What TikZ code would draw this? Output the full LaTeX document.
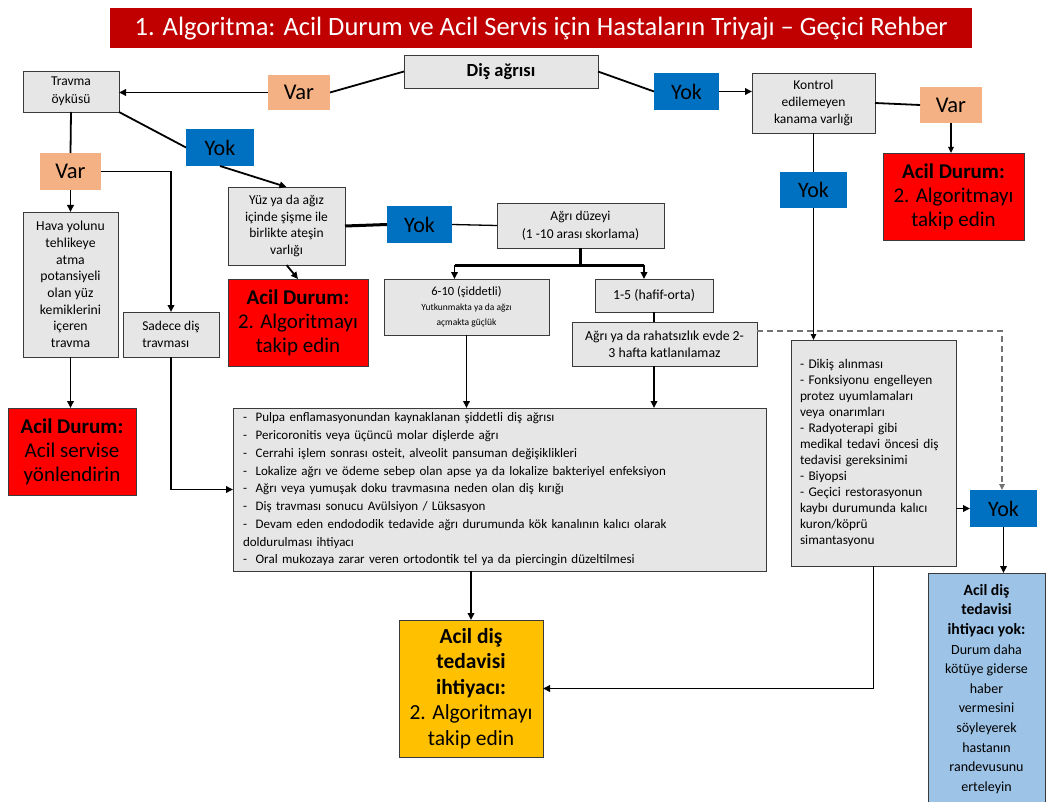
\documentclass[tikz,border=0pt]{standalone}
\usepackage{fontspec}
\setmainfont{Carlito}
\usetikzlibrary{arrows.meta,calc}
\definecolor{titlered}{HTML}{C00000}
\definecolor{varor}{HTML}{F4B183}
\definecolor{yokbl}{HTML}{0070C0}
\definecolor{acilred}{HTML}{FF0000}
\definecolor{gold}{HTML}{FFC000}
\definecolor{ltblue}{HTML}{9DC3E6}
\definecolor{boxgray}{HTML}{E6E6E6}
\definecolor{edge}{HTML}{3A3A3A}
\tikzset{
  box/.style={draw=edge, fill=boxgray, line width=0.9pt, inner sep=2pt, outer sep=0pt, align=center, anchor=north west},
  varbox/.style={box, draw=none, fill=varor, font=\fontsize{22.5}{26}\selectfont},
  yokbox/.style={box, draw=none, fill=yokbl, font=\fontsize{22}{26}\selectfont},
  redbox/.style={box, fill=acilred, font=\fontsize{21}{24}\selectfont},
  ln/.style={line width=1.8pt},
  thin/.style={line width=1.3pt},
  arr/.style={ln, -{Triangle[length=7pt,width=6.5pt]}},
  thinarr/.style={thin, -{Triangle[length=6pt,width=5.5pt]}},
  dsh/.style={line width=1.5pt, draw=black!55, dash pattern=on 6pt off 4pt, -{Triangle[length=6pt,width=5.5pt]}}
}
\begin{document}
\begin{tikzpicture}[x=1pt,y=-1pt]
\useasboundingbox (0,0) rectangle (1048,802);
\fill[white] (0,0) rectangle (1048,802);

% title
\node[fill=titlered, text=white, minimum width=862pt, minimum height=40pt, anchor=north west, inner sep=0pt, font=\fontsize{26.5}{30}\selectfont] (title) at (110,8) {1. Algoritma: Acil Durum ve Acil Servis için Hastaların Triyajı – Geçici Rehber};

% top row
\node[box, minimum width=194pt, minimum height=33pt, font=\fontsize{18.5}{21}\selectfont\bfseries] (dis) at (404,55) {Diş ağrısı};
\node[varbox, minimum width=62pt, minimum height=35pt] (varA) at (268,75) {Var};
\node[box, minimum width=96pt, minimum height=41pt, font=\fontsize{13.5}{17.5}\selectfont] (travma) at (23,71) {Travma\\öyküsü};
\node[yokbox, minimum width=65pt, minimum height=37pt] (yokA) at (654,73) {Yok};
\node[box, minimum width=123pt, minimum height=60pt, font=\fontsize{13.5}{17}\selectfont] (kontrol) at (752,73) {Kontrol\\edilemeyen\\kanama varlığı};
\node[varbox, minimum width=62pt, minimum height=36pt] (varB) at (920,87) {Var};
\node[redbox, minimum width=141pt, minimum height=87pt] (acilB) at (883,153) {\textbf{Acil Durum:}\\2. Algoritmayı\\takip edin};
\node[yokbox, minimum width=67pt, minimum height=36pt] (yokB) at (780,172) {Yok};

% left branch
\node[yokbox, minimum width=68pt, minimum height=37pt] (yokC) at (186,129) {Yok};
\node[varbox, minimum width=61pt, minimum height=37pt] (varC) at (40,153) {Var};
\node[box, minimum width=95pt, minimum height=145pt, font=\fontsize{13.7}{16.7}\selectfont] (hava) at (23,212) {Hava yolunu\\tehlikeye\\atma\\potansiyeli\\olan yüz\\kemiklerini\\içeren\\travma};
\node[box, minimum width=96pt, minimum height=45pt, align=left, font=\fontsize{13.5}{17}\selectfont] (sadece) at (123,312) {Sadece diş\\travması};
\node[box, minimum width=117pt, minimum height=78pt, font=\fontsize{13.5}{16.7}\selectfont] (yuz) at (228,187) {Yüz ya da ağız\\içinde şişme ile\\birlikte ateşin\\varlığı};
\node[redbox, minimum width=140pt, minimum height=87pt] (acilA) at (228,279) {\textbf{Acil Durum:}\\2. Algoritmayı\\takip edin};
\node[yokbox, minimum width=65pt, minimum height=37pt] (yokD) at (387,206) {Yok};
\node[box, minimum width=167pt, minimum height=45pt, font=\fontsize{13.5}{18}\selectfont] (agri) at (497,203) {Ağrı düzeyi\\(1 -10 arası skorlama)};
\node[box, minimum width=165pt, minimum height=56pt, font=\fontsize{9.5}{15}\selectfont] (siddet) at (384,279) {{\fontsize{12.5}{15}\selectfont 6-10 (şiddetli)}\\Yutkunmakta ya da ağzı\\açmakta güçlük};
\node[box, minimum width=118pt, minimum height=33pt, font=\fontsize{13.8}{16}\selectfont] (hafif) at (595,279) {1-5 (hafif-orta)};
\node[box, minimum width=185pt, minimum height=44pt, font=\fontsize{13.8}{17}\selectfont] (rahat) at (572,322) {Ağrı ya da rahatsızlık evde 2-\\3 hafta katlanılamaz};
\node[redbox, minimum width=128pt, minimum height=87pt] (acilS) at (8,408) {\textbf{Acil Durum:}\\Acil servise\\yönlendirin};

% list box
\node[box, inner xsep=10pt, text width=513pt, minimum height=163pt, align=left, font=\fontsize{13}{17.75}\selectfont] (list) at (233,408) {- \ Pulpa enflamasyonundan kaynaklanan şiddetli diş ağrısı\\
- \ Pericoronitis veya üçüncü molar dişlerde ağrı\\
- \ Cerrahi işlem sonrası osteit, alveolit pansuman değişiklikleri\\
- \ Lokalize ağrı ve ödeme sebep olan apse ya da lokalize bakteriyel enfeksiyon\\
- \ Ağrı veya yumuşak doku travmasına neden olan diş kırığı\\
- \ Diş travması sonucu Avülsiyon / Lüksasyon\\
- \ Devam eden endododik tedavide ağrı durumunda kök kanalının kalıcı olarak\\
doldurulması ihtiyacı\\
- \ Oral mukozaya zarar veren ortodontik tel ya da piercingin düzeltilmesi};

% right list
\node[box, inner xsep=9pt, text width=147pt, minimum height=226pt, align=left, font=\fontsize{13.3}{16}\selectfont] (rlist) at (791,340) {- Dikiş alınması\\
- Fonksiyonu engelleyen\\
protez uyumlamaları\\
veya onarımları\\
- Radyoterapi gibi\\
medikal tedavi öncesi diş\\
tedavisi gereksinimi\\
- Biyopsi\\
- Geçici restorasyonun\\
kaybı durumunda kalıcı\\
kuron/köprü\\
simantasyonu\\[14pt]};

\node[yokbox, minimum width=67pt, minimum height=37pt] (yokE) at (970,490) {Yok};

\node[box, fill=gold, minimum width=144pt, minimum height=137pt, font=\fontsize{21.5}{25.5}\selectfont] (gold) at (399,620) {\textbf{Acil diş}\\\textbf{tedavisi}\\\textbf{ihtiyacı:}\\2. Algoritmayı\\takip edin};
\node[box, fill=ltblue, minimum width=117pt, minimum height=232pt, font=\fontsize{14}{19.6}\selectfont] (blue) at (928,573) {{\fontsize{15.7}{19.6}\selectfont\bfseries Acil diş}\\{\fontsize{15.7}{19.6}\selectfont\bfseries tedavisi}\\{\fontsize{15.7}{19.6}\selectfont\bfseries ihtiyacı yok:}\\Durum daha\\kötüye giderse\\haber\\vermesini\\söyleyerek\\hastanın\\randevusunu\\erteleyin};

% connectors
\draw[ln] (dis.west) -- (varA.east);
\draw[arr] (varA.west) -- (varA.west -| travma.east);
\draw[ln] (dis.east) -- (yokA.west);
\draw[arr] (yokA.east) -- (yokA.east -| kontrol.west);
\draw[ln] (kontrol.east) -- (varB.west);
\draw[thinarr] (varB.south) -- (varB.south |- acilB.north);
\draw[thin] (kontrol.south) -- (yokB.north);
\draw[thinarr] (yokB.south) -- (yokB.south |- rlist.north);

\draw[ln] (travma.south) -- (varC.north);
\draw[arr] (varC.south) -- (varC.south |- hava.north);
\draw[arr] (varC.east) -| (sadece.north);
\draw[ln] (travma.south east) -- (yokC.west);
\draw[arr] (yokC.south) -- (yuz.north);
\draw[line width=3pt] (yuz.east) -- (yokD.west);
\draw[thin] (yokD.east) -- (agri.west);
\draw[arr] (yuz.south) -- (acilA.north);

\coordinate (split) at ($(agri.south)+(0,17)$);
\coordinate (sL) at ($(siddet.north)+(-12,-14)$);
\coordinate (sR) at ($(hafif.north)+(-10,-14)$);
\draw[line width=3pt] (agri.south) -- (split);
\draw[line width=3pt] (sL) -- (sR);
\draw[arr] (sL) -- (sL |- siddet.north);
\draw[arr] (sR) -- (sR |- hafif.north);
\draw[thin] (hafif.south) -- (hafif.south |- rahat.north);
\draw[arr] (siddet.south) -- (siddet.south |- list.north);
\draw[arr] (hafif.south |- rahat.south) -- (hafif.south |- list.north);
\draw[arr] (hava.south) -- (hava.south |- acilS.north);
\draw[arr] (sadece.south) |- (list.west);
\draw[arr] (gold.north |- list.south) -- (gold.north);
\draw[arr] (rlist.south) |- (gold.east);
\draw[arr] (rlist.east |- yokE.west) -- (yokE.west);
\draw[dsh] ($(rahat.east)+(0,-13)$) -| ($(yokE.north)+(-1.5,0)$);
\draw[arr] (yokE.south) -- (yokE.south |- blue.north);
\end{tikzpicture}
\end{document}
